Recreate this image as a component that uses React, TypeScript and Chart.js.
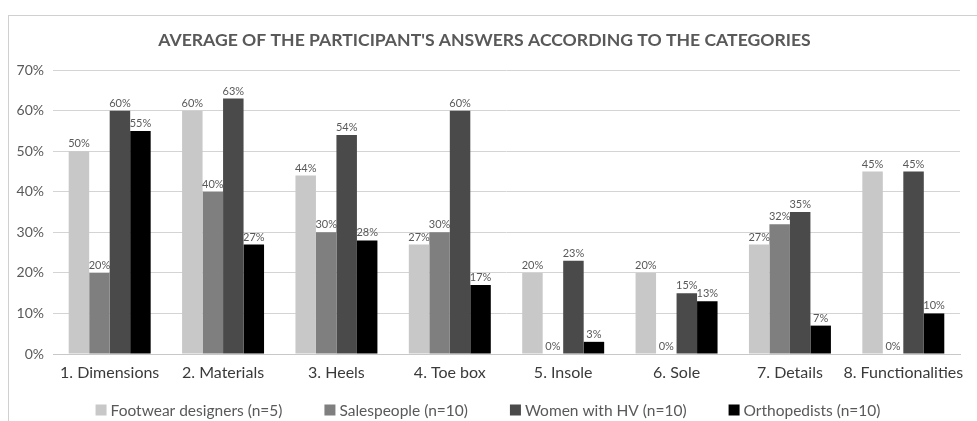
import React, { useEffect, useRef } from "react";
import { Chart, registerables } from "chart.js";

Chart.register(...registerables);

const categories = [
  "1. Dimensions",
  "2. Materials",
  "3. Heels",
  "4. Toe box",
  "5. Insole",
  "6. Sole",
  "7. Details",
  "8. Functionalities",
];

const footwearDesigners = [50, 60, 44, 27, 20, 20, 27, 45];
const salespeople = [20, 40, 30, 30, 0, 0, 32, 0];
const womenWithHV = [60, 63, 54, 60, 23, 15, 35, 45];
const orthopedists = [55, 27, 28, 17, 3, 13, 7, 10];

const seriesNames = [
  "Footwear designers (n=5)",
  "Salespeople (n=10)",
  "Women with HV (n=10)",
  "Orthopedists (n=10)",
];
const seriesColors = ["#c8c8c8", "#7f7f7f", "#4a4a4a", "#000000"];

const yTicks = [0, 10, 20, 30, 40, 50, 60, 70];

const FONT = "Lato, 'Open Sans', sans-serif";

// Writes each bar's percentage just above its top edge.
const valueLabels = {
  id: "valueLabels",
  afterDatasetsDraw(chart: any) {
    const ctx = chart.ctx;
    ctx.save();
    ctx.font = `11px ${FONT}`;
    ctx.fillStyle = "#595959";
    ctx.textAlign = "center";
    ctx.textBaseline = "bottom";
    chart.data.datasets.forEach((ds: any, di: number) => {
      const meta = chart.getDatasetMeta(di);
      meta.data.forEach((bar: any, i: number) => {
        ctx.fillText(`${ds.data[i]}%`, bar.x, bar.y - 2);
      });
    });
    ctx.restore();
  },
};

// Single-row legend along the bottom edge with wide gaps between entries.
const wideLegend = {
  id: "wideLegend",
  afterDraw(chart: any) {
    const ctx = chart.ctx;
    const box = 11;
    const textGap = 4;
    const itemGap = 42;
    const cy = chart.height - 11;
    ctx.save();
    ctx.font = `15.5px ${FONT}`;
    ctx.textBaseline = "middle";
    ctx.textAlign = "left";
    const items = chart.data.datasets.map((ds: any) => ({
      text: ds.label,
      color: ds.backgroundColor,
      w: box + textGap + ctx.measureText(ds.label).width,
    }));
    const total =
      items.reduce((s: number, it: any) => s + it.w, 0) + itemGap * (items.length - 1);
    let x = chart.width / 2 - 5 - total / 2;
    items.forEach((it: any) => {
      ctx.fillStyle = it.color;
      ctx.fillRect(x, cy - box / 2, box, box);
      ctx.fillStyle = "#595959";
      ctx.fillText(it.text, x + box + textGap, cy + 1);
      x += it.w + itemGap;
    });
    ctx.restore();
  },
};

export default function App() {
  const canvasRef = useRef<HTMLCanvasElement | null>(null);

  useEffect(() => {
    if (!canvasRef.current) return;
    const series = [footwearDesigners, salespeople, womenWithHV, orthopedists];
    const chart = new Chart(canvasRef.current, {
      type: "bar",
      data: {
        labels: categories,
        datasets: series.map((values, i) => ({
          label: seriesNames[i],
          data: values,
          backgroundColor: seriesColors[i],
          borderWidth: 0,
          categoryPercentage: 0.723,
          barPercentage: 1.0,
        })),
      },
      options: {
        animation: false,
        responsive: false,
        maintainAspectRatio: false,
        layout: { padding: { left: 0, right: 17, top: 0, bottom: 37 } },
        plugins: {
          title: {
            display: true,
            text: "AVERAGE OF THE PARTICIPANT'S ANSWERS ACCORDING TO THE CATEGORIES",
            color: "#595959",
            font: { family: FONT, size: 17.6, weight: "bold" },
            padding: { top: 14, bottom: 19 },
          },
          legend: { display: false },
          tooltip: { enabled: false },
        },
        scales: {
          x: {
            grid: { display: false, drawTicks: false },
            border: { display: true, color: "#c8c8c8" },
            ticks: {
              color: "#3a3a3a",
              font: { family: FONT, size: 16 },
              padding: 9,
              maxRotation: 0,
              autoSkip: false,
            },
            afterFit(scale: any) {
              scale.height = 30;
            },
          },
          y: {
            min: 0,
            max: 70,
            afterBuildTicks(scale: any) {
              scale.ticks = yTicks.map((v) => ({ value: v }));
            },
            grid: { color: "#d4d4d4", drawTicks: false },
            border: { display: false },
            ticks: {
              color: "#595959",
              font: { family: FONT, size: 14 },
              padding: 9,
              callback: (v: any) => `${v}%`,
            },
            afterFit(scale: any) {
              scale.width = 44;
            },
          },
        },
      },
      plugins: [valueLabels, wideLegend],
    });
    return () => chart.destroy();
  }, []);

  return (
    <div
      style={{
        position: "fixed",
        top: 15,
        left: 8,
        width: 969,
        height: 406,
        borderTop: "1px solid #d0d0d0",
        borderLeft: "1px solid #d0d0d0",
        background: "#ffffff",
      }}
    >
      <canvas ref={canvasRef} width={968} height={405} style={{ display: "block" }} />
    </div>
  );
}
